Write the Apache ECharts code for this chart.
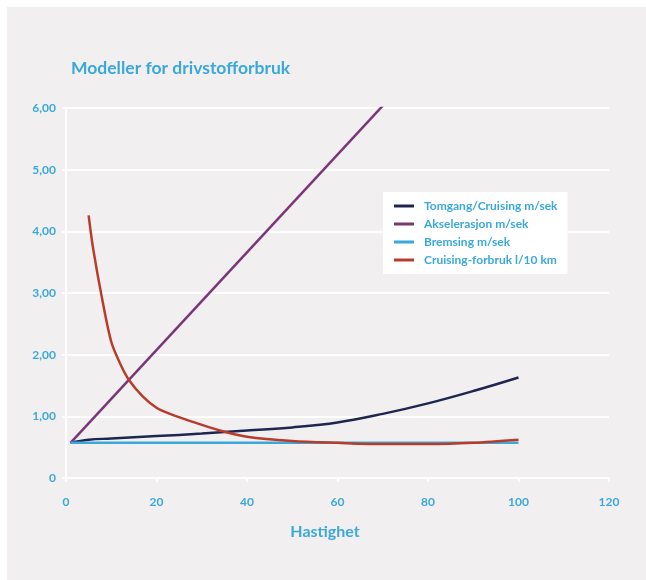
<!DOCTYPE html>
<html>
<head>
<meta charset="utf-8">
<script src="https://cdn.jsdelivr.net/npm/echarts@6/dist/echarts.min.js"></script>
<style>
html,body{margin:0;padding:0;background:#ffffff;}
#panel{position:absolute;left:7px;top:7px;width:639px;height:573px;background:#f2eff0;}
#chart{position:absolute;left:0;top:0;width:646px;height:580px;}
</style>
</head>
<body>
<div id="panel"></div>
<div id="chart"></div>
<script>
const titleText = 'Modeller for drivstofforbruk';
const xAxisName = 'Hastighet';
const seriesNames = ['Tomgang/Cruising m/sek', 'Akselerasjon m/sek', 'Bremsing m/sek', 'Cruising-forbruk l/10 km'];

const tomgangX = [1, 5, 10, 20, 30, 40, 50, 60, 70, 80, 90, 100];
const tomgangY = [0.57, 0.62, 0.64, 0.68, 0.72, 0.77, 0.82, 0.9, 1.04, 1.21, 1.41, 1.63];

const akselX = [1, 70.3];
const akselY = [0.57, 6.06];

const bremsX = [1, 100];
const bremsY = [0.57, 0.57];

const forbrukX = [5, 6, 8, 10, 12, 14, 17, 20, 23, 28, 34, 40, 50, 60, 70, 80, 90, 100];
const forbrukY = [4.26, 3.72, 2.9, 2.21, 1.85, 1.58, 1.32, 1.14, 1.04, 0.91, 0.77, 0.67, 0.6, 0.57, 0.55, 0.55, 0.57, 0.62];

const yTickLabels = {0: '0', 1: '1,00', 2: '2,00', 3: '3,00', 4: '4,00', 5: '5,00', 6: '6,00'};

const colors = ['#1e2650', '#7a3778', '#3aa9da', '#b93c2b'];
const blue = '#3aa9da';
const fontFam = 'Lato, "Open Sans", sans-serif';

function pairs(xs, ys) { return xs.map((x, i) => [x, ys[i]]); }

const chart = echarts.init(document.getElementById('chart'), null, {renderer: 'canvas'});
const mk = (name, xs, ys, color, smooth) => ({
  name: name, type: 'line', data: pairs(xs, ys), showSymbol: false, smooth: smooth,
  lineStyle: {color: color, width: 2.5}, itemStyle: {color: color}
});
chart.setOption({
  animation: false,
  backgroundColor: 'transparent',
  title: {
    text: titleText, left: 66, top: 54,
    textStyle: {color: blue, fontSize: 17.5, fontWeight: 'bold', fontFamily: fontFam}
  },
  legend: {
    orient: 'vertical', left: 383, top: 192,
    backgroundColor: '#ffffff',
    padding: [8, 10, 8, 11],
    itemWidth: 20, itemHeight: 3, itemGap: 6,
    icon: 'rect',
    textStyle: {color: blue, fontSize: 12, fontWeight: 'bold', fontFamily: fontFam, padding: [0, 0, 0, 5]},
    data: seriesNames
  },
  grid: {left: 66, right: 37, top: 108, bottom: 102, containLabel: false},
  xAxis: {
    type: 'value', min: 0, max: 120, interval: 20,
    name: xAxisName, nameLocation: 'middle', nameGap: 46,
    nameTextStyle: {color: blue, fontSize: 16, fontWeight: 'bold', fontFamily: fontFam, padding: [0, 25, 0, 0]},
    axisLine: {show: true, lineStyle: {color: '#ffffff', width: 2}},
    axisTick: {show: true, length: 4, lineStyle: {color: '#ffffff', width: 2}},
    axisLabel: {color: blue, fontSize: 12, fontWeight: 'bold', fontFamily: fontFam, margin: 18},
    splitLine: {show: false}
  },
  yAxis: {
    type: 'value', min: 0, max: 6, interval: 1,
    axisLine: {show: true, lineStyle: {color: '#ffffff', width: 2}},
    axisTick: {show: true, length: 4, lineStyle: {color: '#ffffff', width: 2}},
    axisLabel: {color: blue, fontSize: 12, fontWeight: 'bold', fontFamily: fontFam, margin: 10,
      formatter: v => yTickLabels[v] !== undefined ? yTickLabels[v] : ''},
    splitLine: {show: true, lineStyle: {color: '#ffffff', width: 2}}
  },
  series: [
    mk(seriesNames[0], tomgangX, tomgangY, colors[0], 0.4),
    mk(seriesNames[1], akselX, akselY, colors[1], false),
    mk(seriesNames[2], bremsX, bremsY, colors[2], false),
    mk(seriesNames[3], forbrukX, forbrukY, colors[3], 0.3)
  ]
});
</script>
</body>
</html>
